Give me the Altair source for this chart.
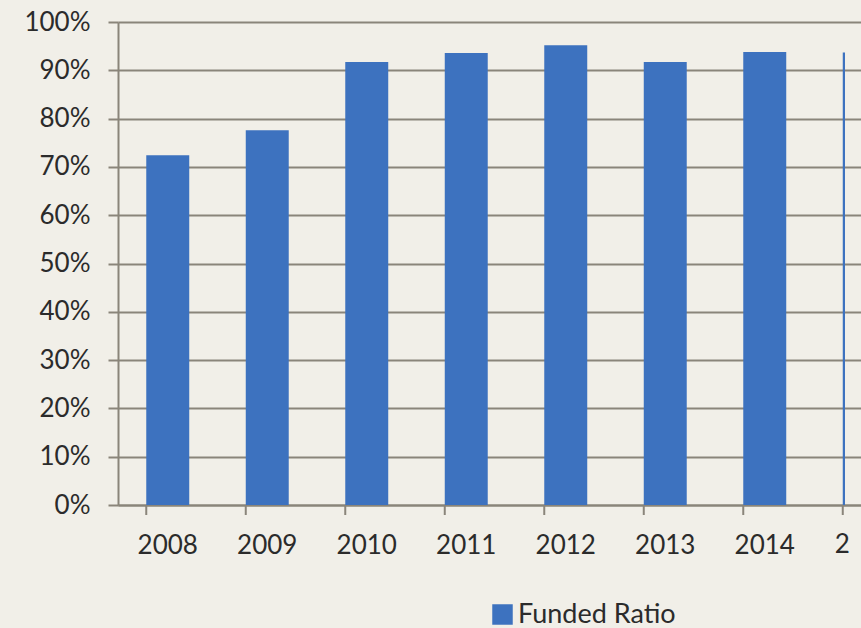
import altair as alt
import pandas as pd

years = ["2008", "2009", "2010", "2011", "2012", "2013", "2014", "2015"]
funded_ratio = [72.4, 77.6, 91.7, 93.6, 95.2, 91.7, 93.8, 93.7]
series_name = "Funded Ratio"
y_ticks = [0, 10, 20, 30, 40, 50, 60, 70, 80, 90, 100]
cut_year = "2015"  # the last category is cropped at the picture's right edge

df = pd.DataFrame({"year": years, "value": funded_ratio, "series": [series_name] * len(years)})

BG = "#f1efe8"
GRID = "#8a857a"
BAR = "#3d72bf"
TEXT = "#2b2b2b"
FONT = "Lato"

W = 727
H = 483
STEP = 99.5

x_enc = alt.X(
    "year:N",
    sort=years,
    scale=alt.Scale(range=[0, STEP * len(years)], paddingInner=0.568, paddingOuter=0.284),
    axis=alt.Axis(
        title=None, ticks=False, tickSize=0, labelPadding=27, labelFontSize=26,
        labelFont=FONT, labelColor=TEXT, domainColor=GRID, domainWidth=2,
        labelAngle=0, grid=False,
        labelExpr=f"datum.value == '{cut_year}' ? '' : datum.value",
    ),
)

bars = alt.Chart(df).mark_bar(clip=True).encode(
    x=x_enc,
    y=alt.Y(
        "value:Q",
        scale=alt.Scale(domain=[0, 100], nice=False),
        axis=alt.Axis(
            title=None, values=y_ticks, labelExpr="datum.value + '%'",
            labelFontSize=26, labelFont=FONT, labelColor=TEXT, labelPadding=18,
            tickSize=10, tickColor=GRID, tickWidth=2,
            grid=True, gridColor=GRID, gridWidth=2,
            domainColor=GRID, domainWidth=2,
        ),
    ),
    color=alt.Color(
        "series:N",
        scale=alt.Scale(range=[BAR]),
        legend=alt.Legend(
            title=None, orient="none", legendX=371, legendY=579,
            symbolType="square", symbolSize=420, symbolStrokeWidth=0,
            labelFontSize=27, labelFont=FONT, labelColor=TEXT, labelOffset=2,
            padding=0,
        ),
    ),
)

ticks = alt.Chart(df).mark_rule(color=GRID, strokeWidth=2).encode(
    x=alt.X("year:N", sort=years, bandPosition=0),
    y=alt.value(H),
    y2=alt.value(H + 10),
)

cut_label = (
    alt.Chart(df)
    .transform_filter(f"datum.year == '{cut_year}'")
    .transform_calculate(first="substring(datum.year, 0, 1)")
    .mark_text(font=FONT, fontSize=26, color=TEXT, baseline="middle", align="center", dx=-22)
    .encode(
        x=alt.X("year:N", sort=years),
        y=alt.value(H + 40),
        text="first:N",
    )
)

chart = (
    alt.layer(bars, ticks, cut_label)
    .properties(
        width=W,
        height=H,
        autosize=alt.AutoSizeParams(type="none"),
        padding={"left": 118, "top": 22, "right": 16, "bottom": 123},
        background=BG,
    )
    .configure_view(fill=BG, stroke=None)
)

chart.save("out.html", embed_options={"renderer": "svg", "actions": False})
